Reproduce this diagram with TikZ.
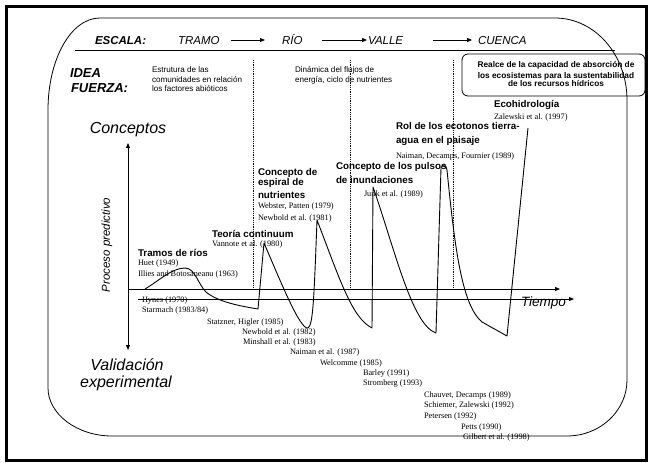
\documentclass[tikz,border=0pt]{standalone}
\usepackage{fontspec}
\setmainfont{Liberation Serif}
\setsansfont{Liberation Sans}
\usetikzlibrary{arrows.meta,calc}

\begin{document}
\begin{tikzpicture}[x=1pt,y=-1pt,
  every node/.style={inner sep=0pt, outer sep=0pt},
  cite/.style={anchor=base west, font=\fontsize{8.3}{9}\selectfont\rmfamily},
  concept/.style={anchor=base west, font=\fontsize{9.8}{11}\selectfont\sffamily\bfseries},
  idea/.style={anchor=base west, font=\fontsize{8.1}{9}\selectfont\sffamily},
  realcetext/.style={anchor=base, font=\fontsize{8.3}{9}\selectfont\sffamily\bfseries},
  scalelabel/.style={anchor=base west, font=\fontsize{11.5}{13}\selectfont\sffamily\itshape},
  heading/.style={anchor=base west, font=\fontsize{13}{15}\selectfont\sffamily\bfseries\itshape},
  biglabel/.style={font=\fontsize{16}{19}\selectfont\sffamily\itshape},
  tip/.style={-{Triangle[length=5pt,width=4pt]}},
  thinline/.style={line width=0.8pt},
  curveline/.style={line width=0.9pt, line join=round},
  divider/.style={densely dotted, line width=0.8pt},
]
\useasboundingbox (0,0) rectangle (649,463);
\fill[white] (0,0) rectangle (649,463);

% outer frame
\draw[line width=3pt] (6.5,6.5) rectangle (646,460);

% rounded panel
\draw[thinline] (48,110) .. controls (48,59) and (71,18) .. (100,18) -- (555,18)
  .. controls (595,18) and (627,55) .. (627,100) -- (627,380)
  .. controls (627,411) and (600,436) .. (567,436) -- (112,436)
  .. controls (77,436) and (48,414) .. (48,388) -- cycle;

% scale row
\node[heading, font=\fontsize{11.5}{13}\selectfont\sffamily\bfseries\itshape] (escala) at (95,44) {ESCALA:};
\node[scalelabel] (tramo) at (178,44) {TRAMO};
\node[scalelabel] (rio) at (282,44) {RÍO};
\node[scalelabel] (valle) at (368,44) {VALLE};
\node[scalelabel] (cuenca) at (478,44) {CUENCA};
\draw[tip, thinline] ([xshift=11pt,yshift=4pt]tramo.base east) -- ([xshift=-17pt,yshift=4pt]rio.base west);
\draw[tip, thinline] ([xshift=20pt,yshift=4pt]rio.base east) -- ([xshift=-1pt,yshift=4pt]valle.base west);
\draw[tip, thinline] ([xshift=30pt,yshift=4pt]valle.base east) -- ([xshift=-6pt,yshift=4pt]cuenca.base west);
\draw[thinline] (75,50) -- (615,50);

% key ideas
\node[heading] (idea) at (70,77) {IDEA};
\node[heading] (fuerza) at (71,92) {FUERZA:};
\node[idea] (estr1) at (152,72) {Estrutura de las};
\node[idea] (estr2) at (152,82) {comunidades en relación};
\node[idea] (estr3) at (152,91.5) {los factores abióticos};
\node[idea] (din1) at (295,72) {Dinámica del flujos de};
\node[idea] (din2) at (295,82) {energía, ciclo de nutrientes};
\node[draw, thinline, rounded corners=6pt, anchor=north west,
      minimum width=183pt, minimum height=42pt] (realce) at (462,54) {};
\node[realcetext] (realce1) at (556,67) {Realce de la capacidad de absorción de};
\node[realcetext] (realce2) at (556,78) {los ecosistemas para la sustentabilidad};
\node[realcetext] (realce3) at (556,86) {de los recursos hídricos};

% dividers
\draw[divider] (253,60) -- (253,288);
\draw[divider] (350,60) -- (350,288);
\draw[divider] (453,60) -- (453,288);

% axes
\node[biglabel] (conceptos) at (128,130) {Conceptos};
\node[biglabel] (validacion) at (127,365) {Validación};
\node[biglabel] (experimental) at (126,383) {experimental};
\node[rotate=90, font=\fontsize{11.5}{13}\selectfont\sffamily\itshape] (proceso) at (107,245) {Proceso predictivo};
\node[anchor=base west, font=\fontsize{13.5}{15}\selectfont\sffamily\itshape] (tiempo) at (521,306.5) {Tiempo};
\coordinate (vtop) at (128,143);
\coordinate (vbot) at (128,350);
\coordinate (origin) at (128,289);
\coordinate (tend) at (560,289);
\coordinate (lstart) at (138,299);
\coordinate (lend) at (574,299);
\draw[thinline, {Triangle[length=5pt,width=4pt]}-{Triangle[length=5pt,width=4pt]}] (vbot) -- (vtop);
\draw[tip, thinline] (origin) -- (tend);
\draw[tip, thinline] (lstart) -- (lend);

% concepts above the axis
\node[concept] (tramos) at (138,256) {Tramos de ríos};
\node[cite] (huet) at (138,265) {Huet (1949)};
\node[cite] (illies) at (138,276) {Illies and Botosaneanu (1963)};
\node[concept] (teoria) at (212,237) {Teoría continuum};
\node[cite] (vannote) at (212,246) {Vannote et al. (1980)};
\node[concept] (esp1) at (258,175) {Concepto de};
\node[concept] (esp2) at (258,185) {espiral de};
\node[concept] (esp3) at (258,198) {nutrientes};
\node[cite] (webster) at (258,208) {Webster, Patten (1979)};
\node[cite] (newbold81) at (258,220) {Newbold et al. (1981)};
\node[concept] (pul1) at (336,169) {Concepto de los pulsos};
\node[concept] (pul2) at (336,183) {de inundaciones};
\node[cite] (junk) at (364,196) {Junk et al. (1989)};
\node[concept] (rol1) at (396,129) {Rol de los ecotonos tierra-};
\node[concept] (rol2) at (396,143) {agua en el paisaje};
\node[cite] (naiman89) at (396,158) {Naiman, Decamps, Fournier (1989)};
\node[concept] (eco) at (494,107) {Ecohidrología};
\node[cite] (zalewski) at (494,119) {Zalewski et al. (1997)};

% experimental works below the axis
\node[cite] (hynes) at (142,302) {Hynes (1970)};
\node[cite] (starmach) at (142,312) {Starmach (1983/84)};
\node[cite] (statzner) at (207,324) {Statzner, Higler (1985)};
\node[cite] (newbold82) at (242,334) {Newbold et al. (1982)};
\node[cite] (minshall) at (243,344) {Minshall et al. (1983)};
\node[cite] (naiman87) at (290,354) {Naiman et al. (1987)};
\node[cite] (welcomme) at (320,365) {Welcomme (1985)};
\node[cite] (barley) at (363,375) {Barley (1991)};
\node[cite] (stromberg) at (363,385) {Stromberg (1993)};
\node[cite] (chauvet) at (424,397) {Chauvet, Decamps (1989)};
\node[cite] (schiemer) at (424,407) {Schiemer, Zalewski (1992)};
\node[cite] (petersen) at (424,418) {Petersen (1992)};
\node[cite] (petts) at (461,429) {Petts (1990)};
\node[cite] (gilbert) at (463,439) {Gilbert et al. (1998)};

% succession of concepts over time
\draw[curveline] (145,289) .. controls (160,280) and (172,268) .. (185,268)
  .. controls (195,268) and (198,284) .. (206,292)
  .. controls (218,302) and (240,306) .. (258,309)
  -- (264,243)
  .. controls (280,280) and (300,330) .. (308,328)
  .. controls (313,325) and (314,300) .. (317,220)
  .. controls (340,280) and (352,318) .. (372,328)
  -- (373,187)
  .. controls (395,250) and (412,325) .. (436,333)
  -- (441,168) .. controls (443,163) and (446,164) .. (447,170)
  .. controls (455,250) and (462,305) .. (482,322)
  -- (507,336) -- (528,128);
\end{tikzpicture}
\end{document}
